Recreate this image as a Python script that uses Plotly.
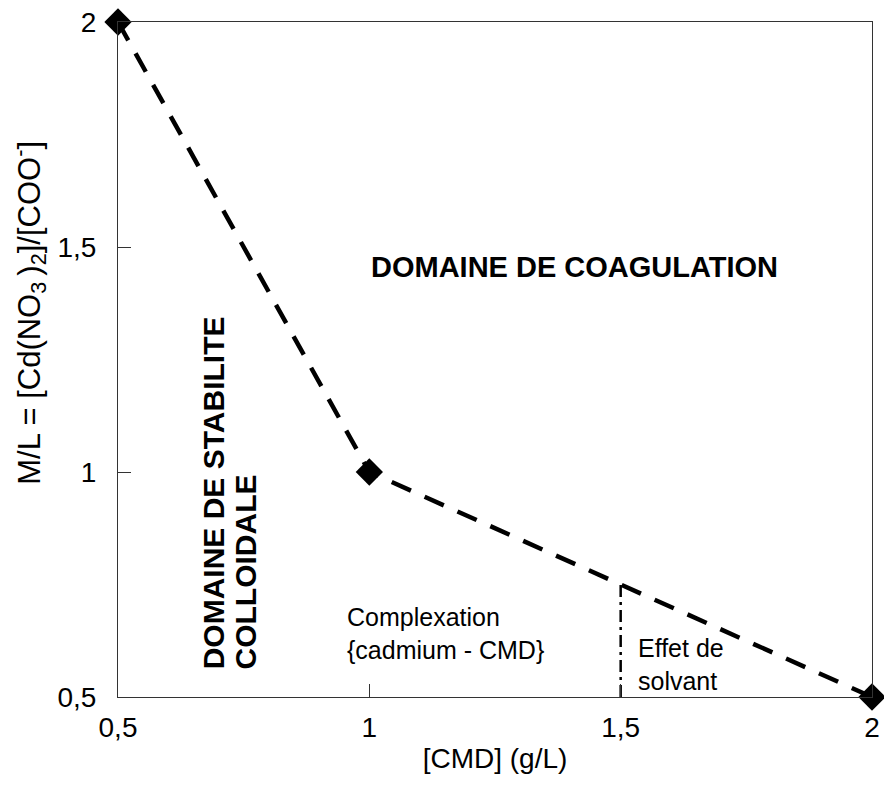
import plotly.graph_objects as go

# data
cmd = [0.5, 1.0, 2.0]
ml_ratio = [2.0, 1.0, 0.5]
solvent_x = [1.5, 1.5]
solvent_y = [0.5, 0.75]
tick_vals = [0.5, 1.0, 1.5, 2.0]
tick_text = ["0,5", "1", "1,5", "2"]

font_name = "Liberation Sans, Arial, sans-serif"

fig = go.Figure()

fig.add_trace(
    go.Scatter(
        x=cmd,
        y=ml_ratio,
        mode="lines",
        line=dict(color="black", width=4.5, dash="21px,15px"),
        showlegend=False,
        cliponaxis=False,
    )
)
fig.add_trace(
    go.Scatter(
        x=solvent_x,
        y=solvent_y,
        mode="lines",
        line=dict(color="black", width=2.5, dash="12px,5px,3px,5px"),
        showlegend=False,
    )
)
fig.add_trace(
    go.Scatter(
        x=cmd,
        y=ml_ratio,
        mode="markers",
        marker=dict(symbol="diamond", size=21, color="black"),
        showlegend=False,
        cliponaxis=False,
    )
)

# region labels
fig.add_annotation(
    x=1.409, y=1.456, text="<b>DOMAINE DE COAGULATION</b>",
    showarrow=False, font=dict(size=29, color="black"),
)
fig.add_annotation(
    x=0.689, y=0.556, text="<b>DOMAINE DE STABILITE</b>",
    showarrow=False, textangle=-90, xanchor="center", yanchor="bottom",
    font=dict(size=30, color="black"),
)
fig.add_annotation(
    x=0.753, y=0.556, text="<b>COLLOIDALE</b>",
    showarrow=False, textangle=-90, xanchor="center", yanchor="bottom",
    font=dict(size=30, color="black"),
)
fig.add_annotation(
    x=0.952, y=0.642, text="Complexation<br>{cadmium - CMD}",
    showarrow=False, align="left", xanchor="left",
    font=dict(size=25, color="black"),
)
fig.add_annotation(
    x=1.53, y=0.573, text="Effet de<br>solvant",
    showarrow=False, align="left", xanchor="left",
    font=dict(size=25, color="black"),
)

# y axis title, placed as in the reference (not centred on the axis)
fig.add_annotation(
    xref="paper", yref="paper", x=-0.117, y=0.569,
    text="M/L = [Cd(NO<sub>3 </sub>)<sub>2</sub>]/[COO<sup>-</sup>]",
    showarrow=False, textangle=-90, xanchor="center", yanchor="middle",
    font=dict(size=31, color="black"),
)

axis_style = dict(
    range=[0.5, 2.0],
    tickvals=tick_vals,
    ticktext=tick_text,
    ticks="inside",
    ticklen=13,
    tickcolor="#333",
    showline=True,
    linecolor="#333",
    linewidth=1,
    mirror=True,
    showgrid=False,
    zeroline=False,
    automargin=False,
    ticklabeloverflow="allow",
    tickfont=dict(size=28, color="black"),
    title_font=dict(size=28, color="black"),
)

fig.update_xaxes(axis_style, title_text="[CMD] (g/L)", ticklabelstandoff=5, title_standoff=6)
fig.update_yaxes(axis_style, ticklabelstandoff=15)

fig.update_layout(
    width=884,
    height=787,
    margin=dict(l=118, r=12, t=22, b=90),
    plot_bgcolor="white",
    paper_bgcolor="white",
    font=dict(family=font_name, color="black"),
)

# drop the default page margin so the figure fills the window exactly
fig.write_html(
    "out.html",
    config={"displayModeBar": False},
    post_script="document.body.style.margin='0';document.body.style.overflow='hidden';",
)
